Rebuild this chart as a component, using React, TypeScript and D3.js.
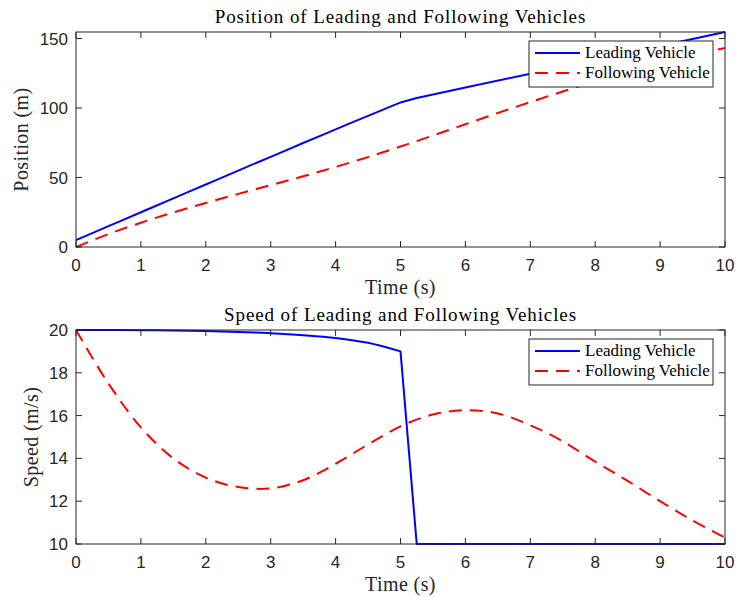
import React from "react";
import * as d3 from "d3";

// time samples (s)
const tFollow = [0, 0.5, 1, 1.5, 2, 2.5, 3, 3.5, 4, 4.5, 5, 5.5, 6, 6.5, 7, 7.5, 8, 8.5, 9, 9.5, 10];
const followPos = [0, 9.3, 17.5, 24.9, 31.7, 38.2, 44.5, 50.9, 57.6, 64.7, 72.3, 80.2, 88.3, 96.4, 104.3, 111.9, 119.1, 125.8, 132.1, 137.9, 143.2];
const followSpeed = [20, 17.5, 15.45, 14.0, 13.1, 12.66, 12.6, 12.98, 13.75, 14.65, 15.5, 16.05, 16.25, 16.1, 15.55, 14.8, 13.85, 12.95, 12.0, 11.1, 10.3];

const tLead = [0, 0.5, 1, 1.5, 2, 2.5, 3, 3.5, 4, 4.5, 5, 5.25, 6, 7, 8, 9, 10];
const leadPos = [5, 15, 25, 35, 45, 55, 64.9, 74.8, 84.6, 94.4, 104.0, 107.2, 114.7, 124.7, 134.7, 144.7, 154.7];
const leadSpeed = [20, 20, 19.99, 19.98, 19.95, 19.91, 19.85, 19.76, 19.63, 19.4, 19.0, 10, 10, 10, 10, 10, 10];
const leadSmoothUntil = 10; // index of t = 5, where the speed drop starts

const xTicks = [0, 1, 2, 3, 4, 5, 6, 7, 8, 9, 10];
const posTicks = [0, 50, 100, 150];
const speedTicks = [10, 12, 14, 16, 18, 20];

const seriesNames = ["Leading Vehicle", "Following Vehicle"];

const AX = "#262626";
const SERIF = "'Liberation Serif', 'Times New Roman', serif";
const SANS = "'Liberation Sans', Arial, Helvetica, sans-serif";
const TICK = 6;
const DASH = "13,8";

type PanelProps = {
  top: number;
  bottom: number;
  yDomain: [number, number];
  yTicks: number[];
  title: string;
  yLabel: string;
  yLabelX: number;
  lead: number[];
  follow: number[];
  legendTop: number;
};

const left = 76;
const right = 725;

function Panel(p: PanelProps) {
  const x = d3.scaleLinear().domain([0, 10]).range([left, right]);
  const y = d3.scaleLinear().domain(p.yDomain).range([p.bottom, p.top]);

  const leadPts: [number, number][] = p.lead.map((v, i) => [x(tLead[i]), y(v)]);
  // smooth part up to the drop, then straight segments
  const leadA = d3.line().curve(d3.curveMonotoneX)(leadPts.slice(0, leadSmoothUntil + 1)) ?? "";
  const leadB = d3.line()(leadPts.slice(leadSmoothUntil)) ?? "";
  const followLine = d3
    .line<number>()
    .x((_, i) => x(tFollow[i]))
    .y((d) => y(d))
    .curve(d3.curveCatmullRom)(p.follow);

  const clipId = `clip-${p.top}`;
  const lx = 529;
  const lw = 184;
  const lh = 46;

  return (
    <g>
      <defs>
        <clipPath id={clipId}>
          <rect x={left} y={p.top - 1} width={right - left + 1} height={p.bottom - p.top + 2} />
        </clipPath>
      </defs>
      <text
        x={(left + right) / 2}
        y={p.top - 9}
        textAnchor="middle"
        fontFamily={SERIF}
        fontSize={19}
        letterSpacing={0.9}
        fill="#000"
      >
        {p.title}
      </text>
      <g clipPath={`url(#${clipId})`}>
        <path d={leadA + leadB.replace(/^M/, "L")} fill="none" stroke="#0000ff" strokeWidth={2} strokeLinejoin="round" />
        <path d={followLine ?? ""} fill="none" stroke="#ff0000" strokeWidth={2} strokeDasharray={DASH} />
      </g>
      {/* box */}
      <rect x={left} y={p.top} width={right - left} height={p.bottom - p.top} fill="none" stroke={AX} strokeWidth={1} />
      {xTicks.map((t) => (
        <g key={`x${t}`}>
          <line x1={x(t)} x2={x(t)} y1={p.bottom} y2={p.bottom - TICK} stroke={AX} />
          <line x1={x(t)} x2={x(t)} y1={p.top} y2={p.top + TICK} stroke={AX} />
          <text x={x(t)} y={p.bottom + 24} textAnchor="middle" fontFamily={SANS} fontSize={17} fill={AX}>
            {t}
          </text>
        </g>
      ))}
      {p.yTicks.map((t) => (
        <g key={`y${t}`}>
          <line x1={left} x2={left + TICK} y1={y(t)} y2={y(t)} stroke={AX} />
          <line x1={right} x2={right - TICK} y1={y(t)} y2={y(t)} stroke={AX} />
          <text x={left - 8} y={y(t) + 6} textAnchor="end" fontFamily={SANS} fontSize={17} fill={AX}>
            {t}
          </text>
        </g>
      ))}
      <text
        x={(left + right) / 2}
        y={p.bottom + 47}
        textAnchor="middle"
        fontFamily={SERIF}
        fontSize={20}
        letterSpacing={0.4}
        fill={AX}
      >
        Time (s)
      </text>
      <text
        transform={`translate(${p.yLabelX},${(p.top + p.bottom) / 2}) rotate(-90)`}
        textAnchor="middle"
        fontFamily={SERIF}
        fontSize={20}
        letterSpacing={0.4}
        fill={AX}
      >
        {p.yLabel}
      </text>
      {/* legend */}
      <rect x={lx} y={p.legendTop} width={lw} height={lh} fill="#fff" stroke={AX} strokeWidth={1} />
      {seriesNames.map((name, i) => {
        const ry = p.legendTop + 12 + i * 20;
        return (
          <g key={name}>
            <line
              x1={lx + 6}
              x2={lx + 51}
              y1={ry}
              y2={ry}
              stroke={i === 0 ? "#0000ff" : "#ff0000"}
              strokeWidth={2}
              strokeDasharray={i === 0 ? undefined : DASH}
            />
            <text x={lx + 56} y={ry + 5} fontFamily={SERIF} fontSize={17} fill="#000">
              {name}
            </text>
          </g>
        );
      })}
    </g>
  );
}

export default function App() {
  return (
    <svg width={736} height={597} style={{ position: "absolute", left: 0, top: 0, background: "#fff" }}>
      <rect width={736} height={597} fill="#fff" />
      <Panel
        top={32}
        bottom={247}
        yDomain={[0, 154.7]}
        yTicks={posTicks}
        title="Position of Leading and Following Vehicles"
        yLabel="Position (m)"
        yLabelX={28}
        lead={leadPos}
        follow={followPos}
        legendTop={41}
      />
      <Panel
        top={330}
        bottom={544}
        yDomain={[10, 20]}
        yTicks={speedTicks}
        title="Speed of Leading and Following Vehicles"
        yLabel="Speed (m/s)"
        yLabelX={38}
        lead={leadSpeed}
        follow={followSpeed}
        legendTop={339}
      />
    </svg>
  );
}
